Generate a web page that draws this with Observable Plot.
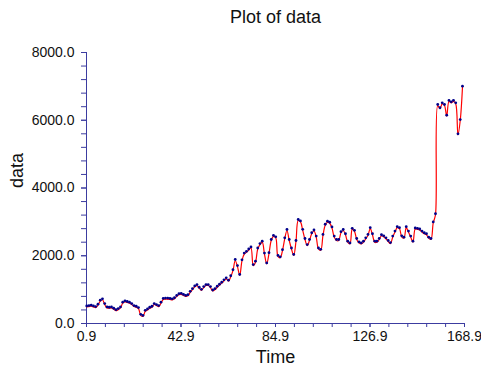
<!DOCTYPE html>
<html><head><meta charset="utf-8">
<script src="https://cdn.jsdelivr.net/npm/d3@7"></script>
<script src="https://cdn.jsdelivr.net/npm/@observablehq/plot@0.6"></script>
<style>body{margin:0;background:#fff}svg{font-family:"Liberation Sans",Arial,sans-serif}</style>
</head><body><div id="chart"></div>
<script>
const values = [
  490, 500, 510, 490, 470, 540, 660, 700, 560, 460,
  450, 460, 420, 380, 410, 460, 600, 640, 620, 600,
  560, 500, 480, 440, 240, 210, 360, 400, 450, 480,
  560, 530, 500, 600, 710, 720, 720, 710, 700, 730,
  800, 850, 860, 830, 800, 820, 920, 1000, 1080, 1120,
  1040, 980, 1060, 1120, 1120, 1060, 960, 1000, 1070, 1130,
  1190, 1260, 1320, 1250, 1380, 1560, 1860, 1680, 1420, 1850,
  2050, 2100, 2170, 2230, 1710, 1810, 2200, 2330, 2400, 2050,
  1760, 2060, 2450, 2570, 2530, 1980, 1940, 2150, 2500, 2745,
  2450, 2200, 2010, 2420, 3040, 3000, 2750, 2480, 2300, 2450,
  2650, 2730, 2550, 2200, 2160, 2600, 2900, 2990, 2960, 2820,
  2550, 2450, 2450, 2680, 2745, 2620, 2400, 2350, 2780, 2720,
  2480, 2380, 2350, 2400, 2500, 2600, 2800, 2620, 2400, 2400,
  2480, 2590, 2560, 2500, 2420, 2360, 2550, 2700, 2830, 2800,
  2560, 2520, 2830, 2700, 2550, 2400, 2790, 2780, 2760, 2700,
  2650, 2620, 2520, 2480, 2970, 3210, 6435, 6340, 6485, 6435,
  6120, 6555, 6515, 6560, 6485, 5570, 5990, 6975
];
const times = values.map((_, i) => i + 1);
const xTicks = [0.9, 42.9, 84.9, 126.9, 168.9];
const xMinorTicks = [0.9, 9.3, 17.7, 26.1, 34.5, 42.9, 51.3, 59.7, 68.1, 76.5, 84.9, 93.3, 101.7, 110.1, 118.5, 126.9, 135.3, 143.7, 152.1, 160.5, 168.9];
const yTicks = [0, 2000, 4000, 6000, 8000];
const yMinorTicks = [0, 400, 800, 1200, 1600, 2000, 2400, 2800, 3200, 3600, 4000, 4400, 4800, 5200, 5600, 6000, 6400, 6800, 7200, 7600, 8000];
const titleText = "Plot of data";
const xLabel = "Time";
const yLabel = "data";

const data = times.map((t, i) => ({t, v: values[i]}));
const axisColor = "#3c3ca0";

const chart = Plot.plot({
  width: 481,
  height: 369,
  marginLeft: 86,
  marginRight: 17,
  marginTop: 52,
  marginBottom: 46,
  style: {fontFamily: "'Liberation Sans', Arial, sans-serif", background: "#fff"},
  x: {domain: [0.9, 168.9]},
  y: {domain: [0, 8000]},
  marks: [
    Plot.axisX({ticks: xMinorTicks, tickSize: 4, stroke: axisColor, tickFormat: () => "", label: null}),
    Plot.axisX({ticks: xTicks, tickSize: 4, tickPadding: 4, stroke: axisColor, fill: "#111", fontSize: 14, tickFormat: d => d.toFixed(1), label: null}),
    Plot.axisY({ticks: yMinorTicks, tickSize: 5, stroke: axisColor, tickFormat: () => "", label: null}),
    Plot.axisY({ticks: yTicks, tickSize: 5, tickPadding: 7, stroke: axisColor, fill: "#111", fontSize: 14, tickFormat: d => d.toFixed(1), label: null}),
    Plot.ruleX([0.9], {stroke: axisColor}),
    Plot.ruleY([0], {stroke: axisColor}),
    Plot.line(data, {x: "t", y: "v", stroke: "#ff0000", strokeWidth: 1.2, curve: "catmull-rom"}),
    Plot.dot(data, {x: "t", y: "v", r: 1.4, fill: "#00008b", stroke: "none", dy: -1}),
    Plot.text([titleText], {frameAnchor: "top", lineAnchor: "middle", dy: -35, fontSize: 18, fill: "#111"}),
    Plot.text([xLabel], {frameAnchor: "bottom", lineAnchor: "middle", dy: 34, fontSize: 18, fill: "#111"}),
    Plot.text([yLabel], {frameAnchor: "left", lineAnchor: "middle", dx: -69, rotate: -90, fontSize: 18, fill: "#111"})
  ]
});
document.getElementById("chart").appendChild(chart);
</script>
</body></html>
